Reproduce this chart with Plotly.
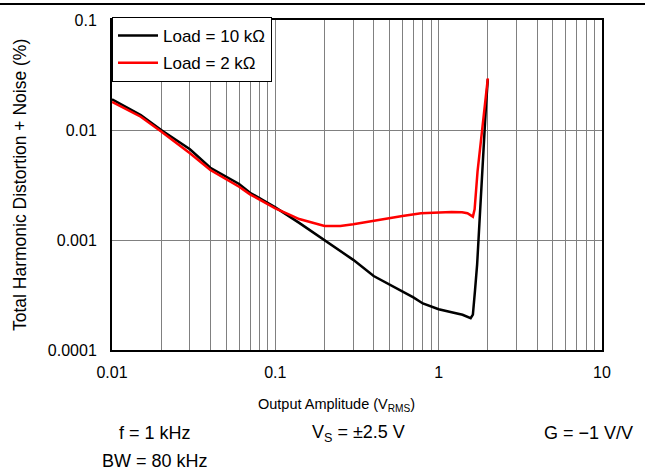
import plotly.graph_objects as go

# ── Data ──────────────────────────────────────────────────────────────────────
amp_10k = [0.01, 0.015, 0.02, 0.03, 0.04, 0.05, 0.06, 0.07, 0.08, 0.1, 0.14,
           0.2, 0.3, 0.4, 0.5, 0.6, 0.7, 0.8, 1.0, 1.2, 1.4, 1.57, 1.62,
           1.67, 1.72, 1.78, 1.85, 1.9, 1.95, 2.0]
thd_10k = [0.019, 0.0137, 0.0100, 0.00668, 0.00454, 0.00376, 0.00323, 0.00269,
           0.00239, 0.00198, 0.00143, 0.00100, 0.00066, 0.00047, 0.000396,
           0.000339, 0.000301, 0.000265, 0.000235, 0.00022, 0.000209,
           0.000195, 0.00021, 0.00035, 0.0006, 0.0015, 0.0045, 0.009, 0.017,
           0.029]

amp_2k = [0.01, 0.015, 0.02, 0.03, 0.04, 0.05, 0.06, 0.07, 0.08, 0.1, 0.12,
          0.14, 0.2, 0.25, 0.3, 0.4, 0.5, 0.6, 0.78, 1.0, 1.2, 1.39, 1.5,
          1.62, 1.66, 1.73, 1.86, 2.0]
thd_2k = [0.018, 0.0132, 0.0097, 0.00614, 0.00433, 0.00356, 0.00305, 0.0026,
          0.00233, 0.00194, 0.00172, 0.00155, 0.00134, 0.00134, 0.00139,
          0.0015, 0.00157, 0.00165, 0.00175, 0.00178, 0.0018, 0.00179,
          0.00175, 0.00163, 0.0019, 0.0042, 0.0105, 0.0295]

x_ticks = [0.01, 0.1, 1, 10]
x_labels = ["0.01", "0.1", "1", "10"]
y_ticks = [0.0001, 0.001, 0.01, 0.1]
y_labels = ["0.0001", "0.001", "0.01", "0.1"]

FONT = "Liberation Sans, Arial, sans-serif"
GRID = "#808080"
W, H = 645, 474
L, R, T, B = 112, 43, 20, 124


def px_x(x):  # page pixel -> paper x
    return (x - L) / (W - L - R)


def px_y(y):  # page pixel -> paper y
    return (H - B - y) / (H - T - B)


fig = go.Figure()
fig.add_trace(go.Scatter(x=amp_10k, y=thd_10k, mode="lines",
                         name="Load = 10 kΩ", legendgroup="a",
                         line=dict(color="black", width=2.5)))
fig.add_trace(go.Scatter(x=amp_2k, y=thd_2k, mode="lines",
                         name="Load = 2 kΩ", legendgroup="b",
                         line=dict(color="#ff0000", width=2.5)))

fig.update_xaxes(
    type="log", range=[-2, 1],
    tickvals=x_ticks, ticktext=x_labels,
    showgrid=True, gridcolor=GRID, gridwidth=1,
    minor=dict(dtick="D1", showgrid=True, gridcolor=GRID, gridwidth=1),
    showline=True, linecolor="black", linewidth=2, mirror=True,
    ticks="", ticklabelstandoff=7, tickfont=dict(size=16, color="black"),
)
fig.update_yaxes(
    type="log", range=[-4, -1],
    tickvals=y_ticks, ticktext=y_labels,
    showgrid=True, gridcolor=GRID, gridwidth=1,
    showline=True, linecolor="black", linewidth=2, mirror=True,
    ticks="", ticklabelstandoff=10, tickfont=dict(size=16, color="black"),
)

# axis titles placed by hand so they sit where the reference has them
fig.add_annotation(text="Output Amplitude (V<sub>RMS</sub>)",
                   xref="paper", yref="paper", x=px_x(336), y=px_y(405),
                   showarrow=False, font=dict(size=14.5, color="black"),
                   xanchor="center", yanchor="middle")
fig.add_annotation(text="Total Harmonic Distortion + Noise (%)",
                   xref="paper", yref="paper", x=px_x(20), y=px_y(185),
                   textangle=-90, showarrow=False,
                   font=dict(size=17.5, color="black"),
                   xanchor="center", yanchor="middle")

notes = [
    ("f = 1 kHz", 155, 433),
    ("V<sub>S</sub> = ±2.5 V", 358, 433),
    ("G = −1 V/V", 588, 433),
    ("BW = 80 kHz", 155, 461),
]
for text, nx, ny in notes:
    fig.add_annotation(text=text, xref="paper", yref="paper",
                       x=px_x(nx), y=px_y(ny),
                       showarrow=False, font=dict(size=18, color="black"),
                       xanchor="center", yanchor="middle")

# rule across the top of the page
fig.add_shape(type="line", xref="paper", yref="paper",
              x0=px_x(0), x1=px_x(W), y0=px_y(4), y1=px_y(4),
              line=dict(color="black", width=2))

fig.update_layout(
    width=W, height=H,
    plot_bgcolor="white", paper_bgcolor="white",
    font=dict(family=FONT, color="black"),
    margin=dict(l=L, r=R, t=T, b=B, autoexpand=False),
    showlegend=True,
    legend=dict(x=0, y=px_y(17), xanchor="left", yanchor="top",
                bgcolor="white", bordercolor="black", borderwidth=1,
                font=dict(size=17, color="black"),
                tracegroupgap=2, itemwidth=40),
)

fig.write_html("out.html", config={"displayModeBar": False},
               post_script="document.body.style.margin='0';")
